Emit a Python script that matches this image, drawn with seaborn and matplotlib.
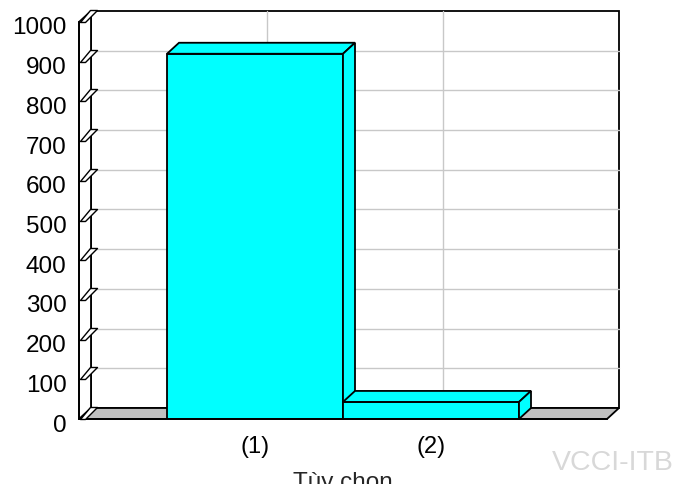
import numpy as np
import pandas as pd
import matplotlib.pyplot as plt
import matplotlib.transforms as mtransforms
import seaborn as sns
from matplotlib.patches import Polygon, Rectangle
from matplotlib.path import Path

# Dữ liệu
categories = ['(1)', '(2)']
values = [920, 43]
y_ticks = list(range(0, 1001, 100))

sns.set_style('white')
plt.rcParams['font.family'] = ['Liberation Sans', 'DejaVu Sans']

fig = plt.figure(figsize=(6.86, 4.84), dpi=100)
ax = fig.add_axes([79 / 686, 65 / 484, 528 / 686, 397 / 484])
ax.patch.set_visible(False)

df = pd.DataFrame({'cat': categories, 'val': values})
sns.barplot(data=df, x='cat', y='val', color='#00FFFF', saturation=1,
            width=1.0, edgecolor='black', linewidth=1.3, ax=ax)

xmin, xmax = -1, 2
ymin, ymax = 0, 1000
ax.set_xlim(xmin, xmax)
ax.set_ylim(ymin, ymax)

# chiều sâu giả 3D (pixel -> đơn vị dữ liệu)
dx_px, dy_px = 12, 11
ddx = dx_px / 528 * (xmax - xmin)
ddy = dy_px / 397 * (ymax - ymin)
lw = 1.3

# tường sau + lưới
ax.add_patch(Rectangle((xmin + ddx, ymin + ddy), xmax - xmin, ymax - ymin,
                       fc='white', ec='black', lw=lw, zorder=0.2, clip_on=False))
for v in y_ticks[1:-1]:
    ax.plot([xmin + ddx, xmax + ddx], [v + ddy, v + ddy], color='#C8C8C8',
            lw=1, zorder=0.3, clip_on=False)
for c in range(len(categories)):
    ax.plot([c + ddx, c + ddx], [ymin + ddy, ymax + ddy], color='#C8C8C8',
            lw=1, zorder=0.3, clip_on=False)

# sàn
ax.add_patch(Polygon([(xmin, ymin), (xmax, ymin), (xmax + ddx, ymin + ddy),
                      (xmin + ddx, ymin + ddy)], closed=True, fc='#C0C0C0',
                     ec='black', lw=lw, zorder=0.6, clip_on=False))
# tường trái
ax.add_patch(Polygon([(xmin, ymin), (xmin, ymax), (xmin + ddx, ymax + ddy),
                      (xmin + ddx, ymin + ddy)], closed=True, fc='white',
                     ec='black', lw=lw, zorder=0.7, clip_on=False))

# mặt trên và mặt bên của cột
for i, p in enumerate(ax.patches[:len(categories)]):
    x0, w, h = p.get_x(), p.get_width(), p.get_height()
    z = 1.0 + i * 0.5
    p.set_zorder(z)
    top = Polygon([(x0, h), (x0 + ddx, h + ddy), (x0 + w + ddx, h + ddy), (x0 + w, h)],
                  closed=True, fc='#00FFFF', ec='black', lw=lw, zorder=z + 0.1,
                  clip_on=False)
    side = Polygon([(x0 + w, 0), (x0 + w, h), (x0 + w + ddx, h + ddy), (x0 + w + ddx, ddy)],
                   closed=True, fc='#00FFFF', ec='black', lw=lw, zorder=z + 0.2,
                   clip_on=False)
    ax.add_patch(top)
    ax.add_patch(side)

# vạch chia trục y dạng hình bình hành
verts = [(1, 0), (6, 0), (18, 12), (11, 12), (1, 0)]
tick_marker = Path(verts + [(-18, -18)], [Path.MOVETO, Path.LINETO, Path.LINETO,
                                          Path.LINETO, Path.CLOSEPOLY, Path.MOVETO])
ax.plot(np.full(len(y_ticks), xmin), y_ticks, ls='none', marker=tick_marker,
        ms=2 * 18 * 0.72, mfc='white', mec='black', mew=1, zorder=2.6, clip_on=False)

ax.set_yticks(y_ticks)
ax.tick_params(axis='y', length=0, pad=9, labelsize=17.5, labelcolor='black')
ax.tick_params(axis='x', direction='in', length=6, width=lw, pad=12,
               labelsize=17, labelcolor='black', bottom=True)
ax.set_xlabel('Tùy chọn', fontsize=17.5, labelpad=10)
ax.set_ylabel('')

shift = mtransforms.ScaledTranslation(0, -4 / 100, fig.dpi_scale_trans)
for lab in ax.get_yticklabels():
    lab.set_transform(lab.get_transform() + shift)

for s in ['top', 'right']:
    ax.spines[s].set_visible(False)
for s in ['left', 'bottom']:
    ax.spines[s].set_color('black')
    ax.spines[s].set_linewidth(lw)

fig.text(674 / 686, 21 / 484, 'VCCI-ITB', color='#D8D8D8', fontsize=20.5,
         ha='right', va='center')

fig.savefig('out.png', dpi=100)
